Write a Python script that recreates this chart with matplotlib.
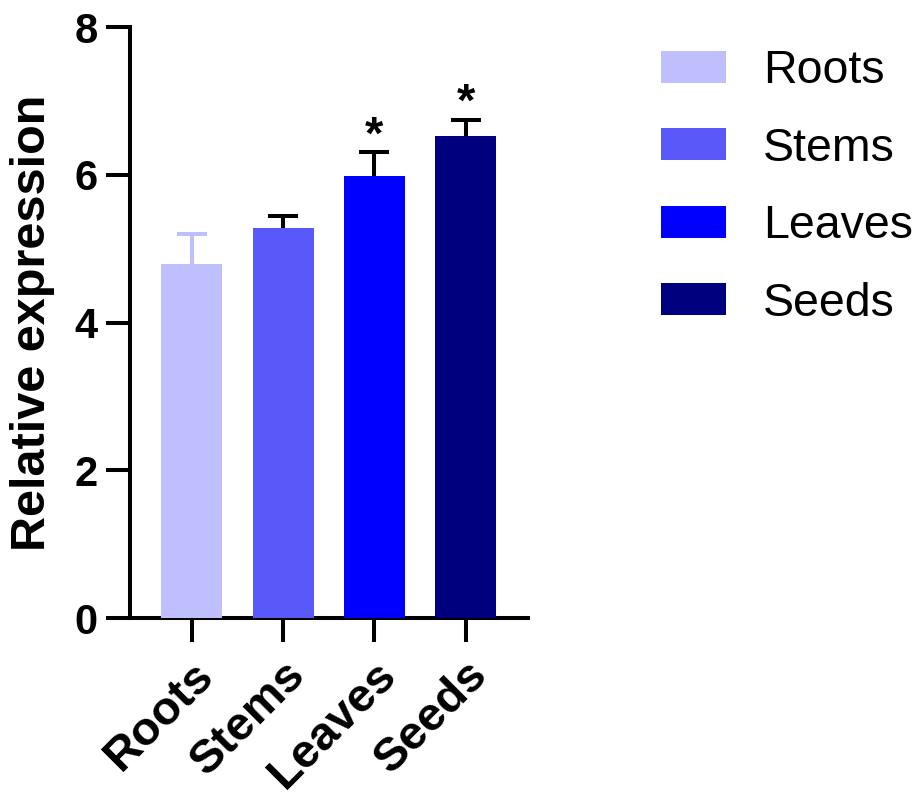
import matplotlib.pyplot as plt
import numpy as np

plt.rcParams['font.family'] = ['Liberation Sans', 'DejaVu Sans']

tissues = ['Roots', 'Stems', 'Leaves', 'Seeds']
means = [4.79, 5.28, 5.98, 6.52]
errors = [0.41, 0.16, 0.33, 0.23]
signif = ['', '', '*', '*']
colors = ['#bfbffd', '#5959f9', '#0000fe', '#00007f']
err_colors = ['#bfbffd', 'black', 'black', 'black']

fig = plt.figure(figsize=(9.21, 8), dpi=100)
ax = fig.add_axes([0.141, 0.2275, 0.432, 0.7385])

x = np.arange(len(tissues))
bars = ax.bar(x, means, width=0.67, color=colors, label=tissues, zorder=3)
for i in range(len(tissues)):
    # symmetric bar, lower half hidden behind the bar
    ax.errorbar(x[i], means[i], yerr=errors[i], fmt='none',
                ecolor=err_colors[i], elinewidth=2.9, capsize=10.8,
                capthick=2.9, zorder=2)
    if signif[i]:
        ax.text(x[i], means[i] + errors[i] - 0.09, signif[i], ha='center',
                va='bottom', fontsize=34, fontweight='bold')

ax.set_xlim(-0.68, 3.68)
ax.set_ylim(0, 8)
ax.set_yticks([0, 2, 4, 6, 8])
ax.set_xticks(x)
ax.set_xticklabels(tissues, rotation=45, ha='right', rotation_mode='anchor',
                   fontsize=34, fontweight='bold')
ax.tick_params(axis='y', labelsize=30, width=2.9, length=17, pad=6)
ax.tick_params(axis='x', width=2.9, length=17, pad=8)
for lab in ax.get_yticklabels():
    lab.set_fontweight('bold')
ax.set_ylabel('Relative expression', fontsize=35, fontweight='bold', labelpad=14)

for s in ['top', 'right']:
    ax.spines[s].set_visible(False)
for s in ['left', 'bottom']:
    ax.spines[s].set_linewidth(2.9)

fig.legend(bars, tissues, loc='upper left', bbox_to_anchor=(0.697, 0.962),
           frameon=False, fontsize=33.5, handlelength=1.4, handleheight=0.68,
           labelspacing=0.72, handletextpad=0.8, borderaxespad=0)

fig.savefig('out.png', dpi=100)
